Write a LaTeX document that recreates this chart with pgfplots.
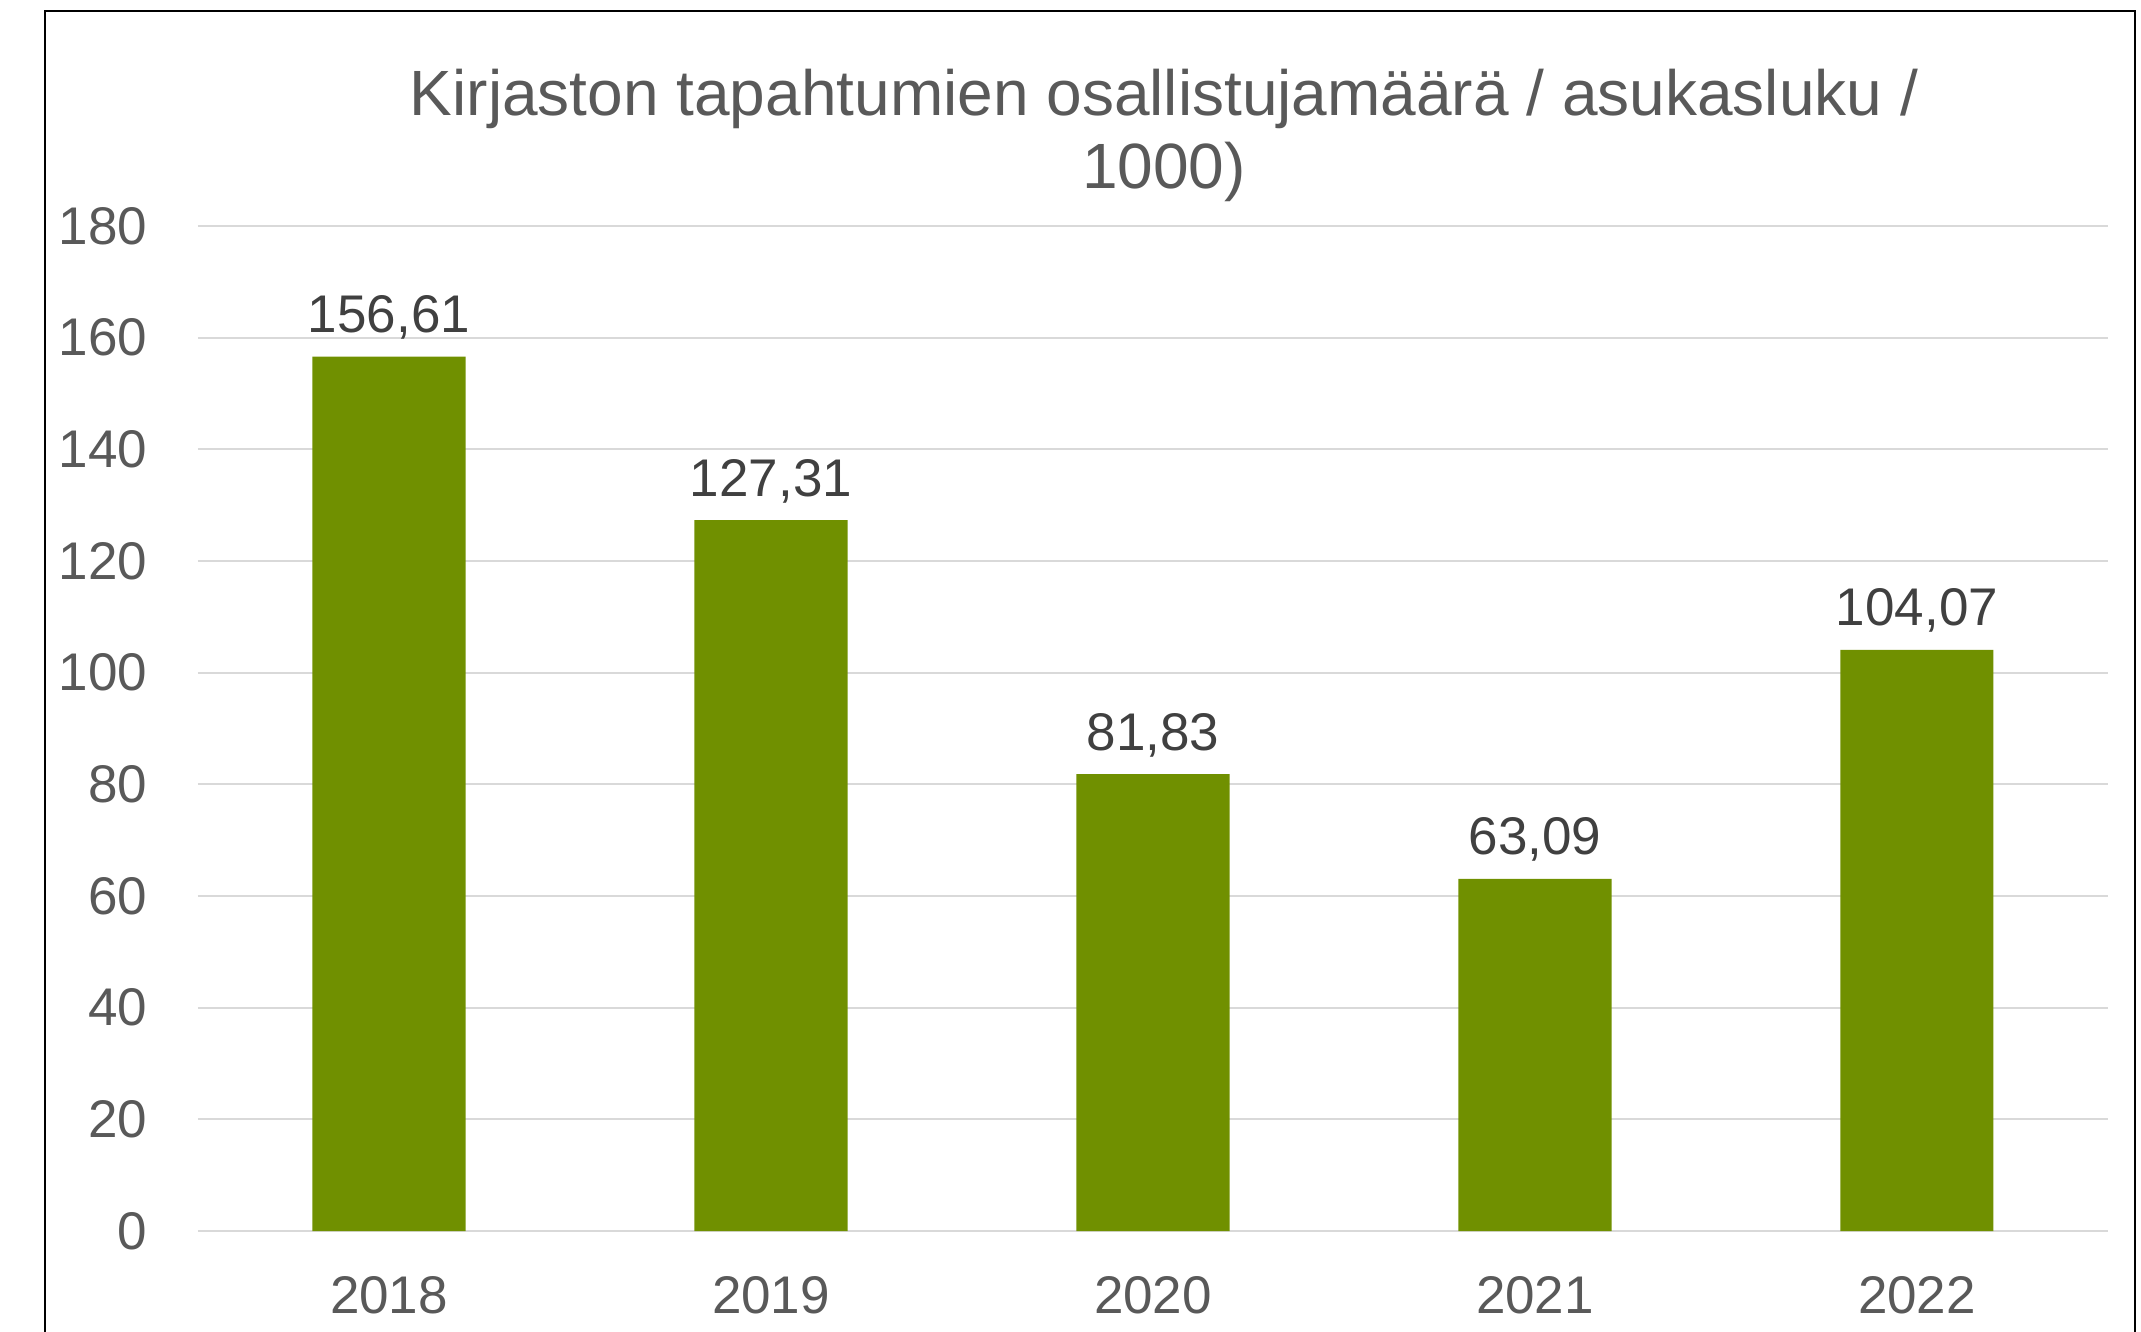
\documentclass[border=0pt]{standalone}
\usepackage{fontspec}
\setmainfont{Liberation Sans}
\usepackage{pgfplots}
\pgfplotsset{compat=1.18}
\definecolor{barGreen}{HTML}{709000}
\definecolor{gridGray}{HTML}{D9D9D9}
\definecolor{tickGray}{HTML}{595959}
\definecolor{labelGray}{HTML}{404040}
\begin{document}
\begin{tikzpicture}
  % page: 2141 x 1331 px at 0.25pt per px
  \useasboundingbox (0,0) rectangle (535.25pt,332.75pt);
  \draw[black, line width=0.5pt] (11.25pt,-5pt) -- (11.25pt,330pt) -- (533.75pt,330pt) -- (533.75pt,-5pt);
  \begin{axis}[
    at={(49.5pt,25pt)}, anchor=south west,
    scale only axis,
    width=477.5pt, height=251.25pt,
    xmin=-0.5, xmax=4.5,
    ymin=0, ymax=180,
    ytick={0,20,...,180},
    xtick={0,1,2,3,4},
    xticklabels={2018,2019,2020,2021,2022},
    major tick length=0pt,
    axis line style={draw=none},
    ymajorgrids,
    grid style={gridGray, line width=0.5pt},
    /pgf/number format/assume math mode=true,
    tick label style={font=\fontsize{13.25pt}{15pt}\selectfont, color=tickGray},
    y tick label style={anchor=east, inner sep=0pt, xshift=-12.5pt},
    x tick label style={anchor=base, inner sep=0pt, yshift=-20.5pt},
    ybar, bar width=38.25pt,
    nodes near coords,
    nodes near coords style={font=\fontsize{13.25pt}{15pt}\selectfont, color=labelGray,
      anchor=base, inner sep=0pt, yshift=6pt,
      /pgf/number format/.cd, fixed, fixed zerofill, precision=2, use comma, assume math mode=true},
    clip=false,
  ]
    \addplot[fill=barGreen, draw=none] coordinates {
      (0,156.61) (1,127.31) (2,81.83) (3,63.09) (4,104.07)
    };
  \end{axis}
  \node[anchor=base, inner sep=0pt, color=tickGray, font=\fontsize{16pt}{18.4pt}\selectfont]
    at (291pt,303.75pt) {Kirjaston tapahtumien osallistujamäärä / asukasluku /};
  \node[anchor=base, inner sep=0pt, color=tickGray, font=\fontsize{16pt}{18.4pt}\selectfont]
    at (291pt,285.5pt) {1000)};
\end{tikzpicture}
\end{document}
